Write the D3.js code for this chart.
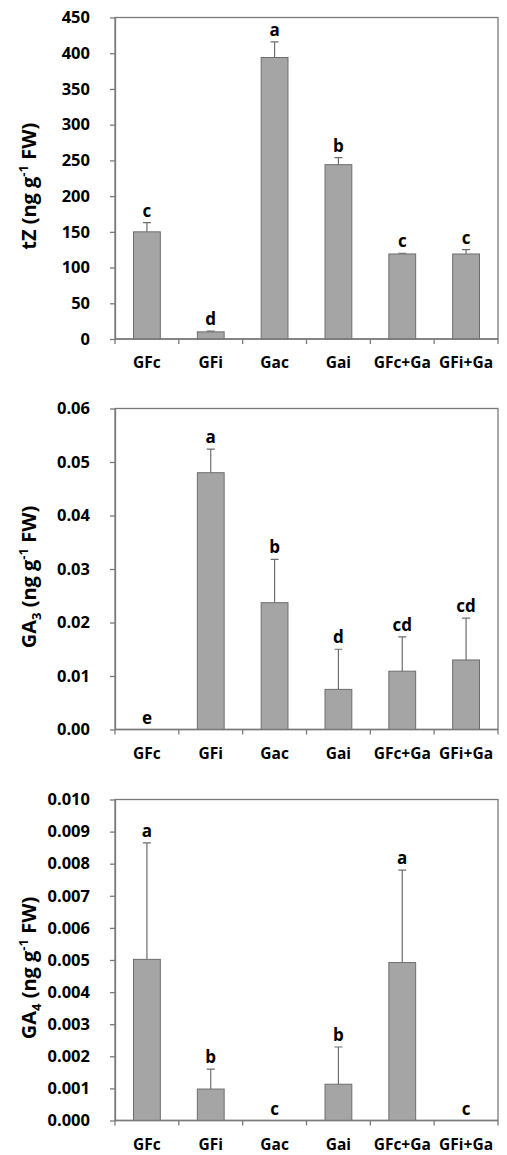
<!DOCTYPE html>
<html>
<head>
<meta charset="utf-8">
<title>hormones</title>
<style>
  body { margin: 0; background: #fff; }
  svg text { font-family: "Open Sans", "Liberation Sans", sans-serif; font-weight: bold; fill: #000; }
  .axis path, .axis line { stroke: #7a7a7a; stroke-width: 1.3; }
  .bar { fill: #a5a5a5; stroke: #6e6e6e; stroke-width: 1; }
  .err { stroke: #6e6e6e; stroke-width: 1.2; fill: none; }
  .frame { fill: none; stroke: #7a7a7a; stroke-width: 1.3; }
</style>
<script src="https://d3js.org/d3.v7.min.js"></script>
</head>
<body>
<svg id="chart" width="507" height="1155"></svg>
<script>
const categories = ['GFc', 'GFi', 'Gac', 'Gai', 'GFc+Ga', 'GFi+Ga'];

const tzValues = [150, 10, 394, 244, 119, 119];
const tzErrors = [13, 1, 22, 10, 1, 6];
const tzLetters = ['c', 'd', 'a', 'b', 'c', 'c'];
const tzTicks = [0, 50, 100, 150, 200, 250, 300, 350, 400, 450];

const ga3Values = [0, 0.048, 0.0237, 0.0075, 0.0109, 0.013];
const ga3Errors = [0, 0.0044, 0.0081, 0.0075, 0.0064, 0.0078];
const ga3Letters = ['e', 'a', 'b', 'd', 'cd', 'cd'];
const ga3Ticks = [0, 0.01, 0.02, 0.03, 0.04, 0.05, 0.06];

const ga4Values = [0.00502, 0.00098, 0, 0.00113, 0.00492, 0];
const ga4Errors = [0.00363, 0.00062, 0, 0.00116, 0.00288, 0];
const ga4Letters = ['a', 'b', 'c', 'b', 'a', 'c'];
const ga4Ticks = [0, 0.001, 0.002, 0.003, 0.004, 0.005, 0.006, 0.007, 0.008, 0.009, 0.010];

const svg = d3.select('#chart');
const left = 115, right = 498;

function panel(opts) {
  const g = svg.append('g');
  const x = d3.scaleBand().domain(categories).range([left, right]).paddingInner(0.58).paddingOuter(0.29);
  const xb = d3.scaleBand().domain(categories).range([left, right]);
  const ymax = opts.ticks[opts.ticks.length - 1];
  const y = d3.scaleLinear().domain([0, ymax]).range([opts.bottom, opts.top]);

  g.append('rect').attr('class', 'frame')
    .attr('x', left).attr('y', opts.top)
    .attr('width', right - left).attr('height', opts.bottom - opts.top);

  g.selectAll('.bar').data(opts.values).join('rect')
    .attr('class', 'bar')
    .attr('x', (d, i) => x(categories[i]))
    .attr('width', x.bandwidth())
    .attr('y', d => y(d))
    .attr('height', d => y(0) - y(d))
    .style('display', d => d > 0 ? null : 'none');

  const cx = i => x(categories[i]) + x.bandwidth() / 2;
  opts.values.forEach((v, i) => {
    const e = opts.errors[i];
    if (v > 0 && e > 0) {
      g.append('path').attr('class', 'err')
        .attr('d', `M${cx(i)},${y(v)}V${y(v + e)}M${cx(i) - 4},${y(v + e)}H${cx(i) + 4}`);
    }
    g.append('text')
      .attr('x', cx(i))
      .attr('y', y(v + e) - 6)
      .attr('text-anchor', 'middle')
      .style('font-size', '17px')
      .text(opts.letters[i]);
  });

  const yAxis = g.append('g').attr('class', 'axis')
    .attr('transform', `translate(${left},0)`)
    .call(d3.axisLeft(y).tickValues(opts.ticks).tickFormat(d3.format(opts.fmt)).tickSize(5).tickSizeOuter(0).tickPadding(20));
  yAxis.selectAll('text').style('font-size', '16.5px').style('font-family', '"Open Sans", sans-serif');

  const xAxis = g.append('g').attr('class', 'axis')
    .attr('transform', `translate(0,${opts.bottom})`);
  xAxis.append('path').attr('d', `M${left},0H${right}`);
  xAxis.selectAll('line').data(categories).join('line')
    .attr('x1', d => xb(d)).attr('x2', d => xb(d)).attr('y1', 0).attr('y2', 5);
  xAxis.append('line').attr('x1', right).attr('x2', right).attr('y1', 0).attr('y2', 5);
  xAxis.selectAll('text').data(categories).join('text')
    .attr('x', d => xb(d) + xb.bandwidth() / 2)
    .attr('y', 29)
    .attr('text-anchor', 'middle')
    .style('font-size', '15.5px')
    .text(d => d);

  const title = g.append('text')
    .attr('transform', `translate(36,${(opts.top + opts.bottom) / 2 + 8}) rotate(-90)`)
    .attr('text-anchor', 'middle')
    .style('font-size', '20px');
  title.append('tspan').text(opts.name[0]);
  if (opts.name[1]) title.append('tspan').attr('dy', 5).style('font-size', '13px').text(opts.name[1]);
  title.append('tspan').attr('dy', opts.name[1] ? -5 : 0).text(' (ng g');
  title.append('tspan').attr('dy', -8).style('font-size', '13px').text('-1');
  title.append('tspan').attr('dy', 8).text(' FW)');
}

panel({ top: 17.5, bottom: 339, values: tzValues, errors: tzErrors, letters: tzLetters, ticks: tzTicks, fmt: 'd', name: ['tZ', null] });
panel({ top: 408.5, bottom: 729.5, values: ga3Values, errors: ga3Errors, letters: ga3Letters, ticks: ga3Ticks, fmt: '.2f', name: ['GA', '3'] });
panel({ top: 799.5, bottom: 1120.5, values: ga4Values, errors: ga4Errors, letters: ga4Letters, ticks: ga4Ticks, fmt: '.3f', name: ['GA', '4'] });
</script>
</body>
</html>
